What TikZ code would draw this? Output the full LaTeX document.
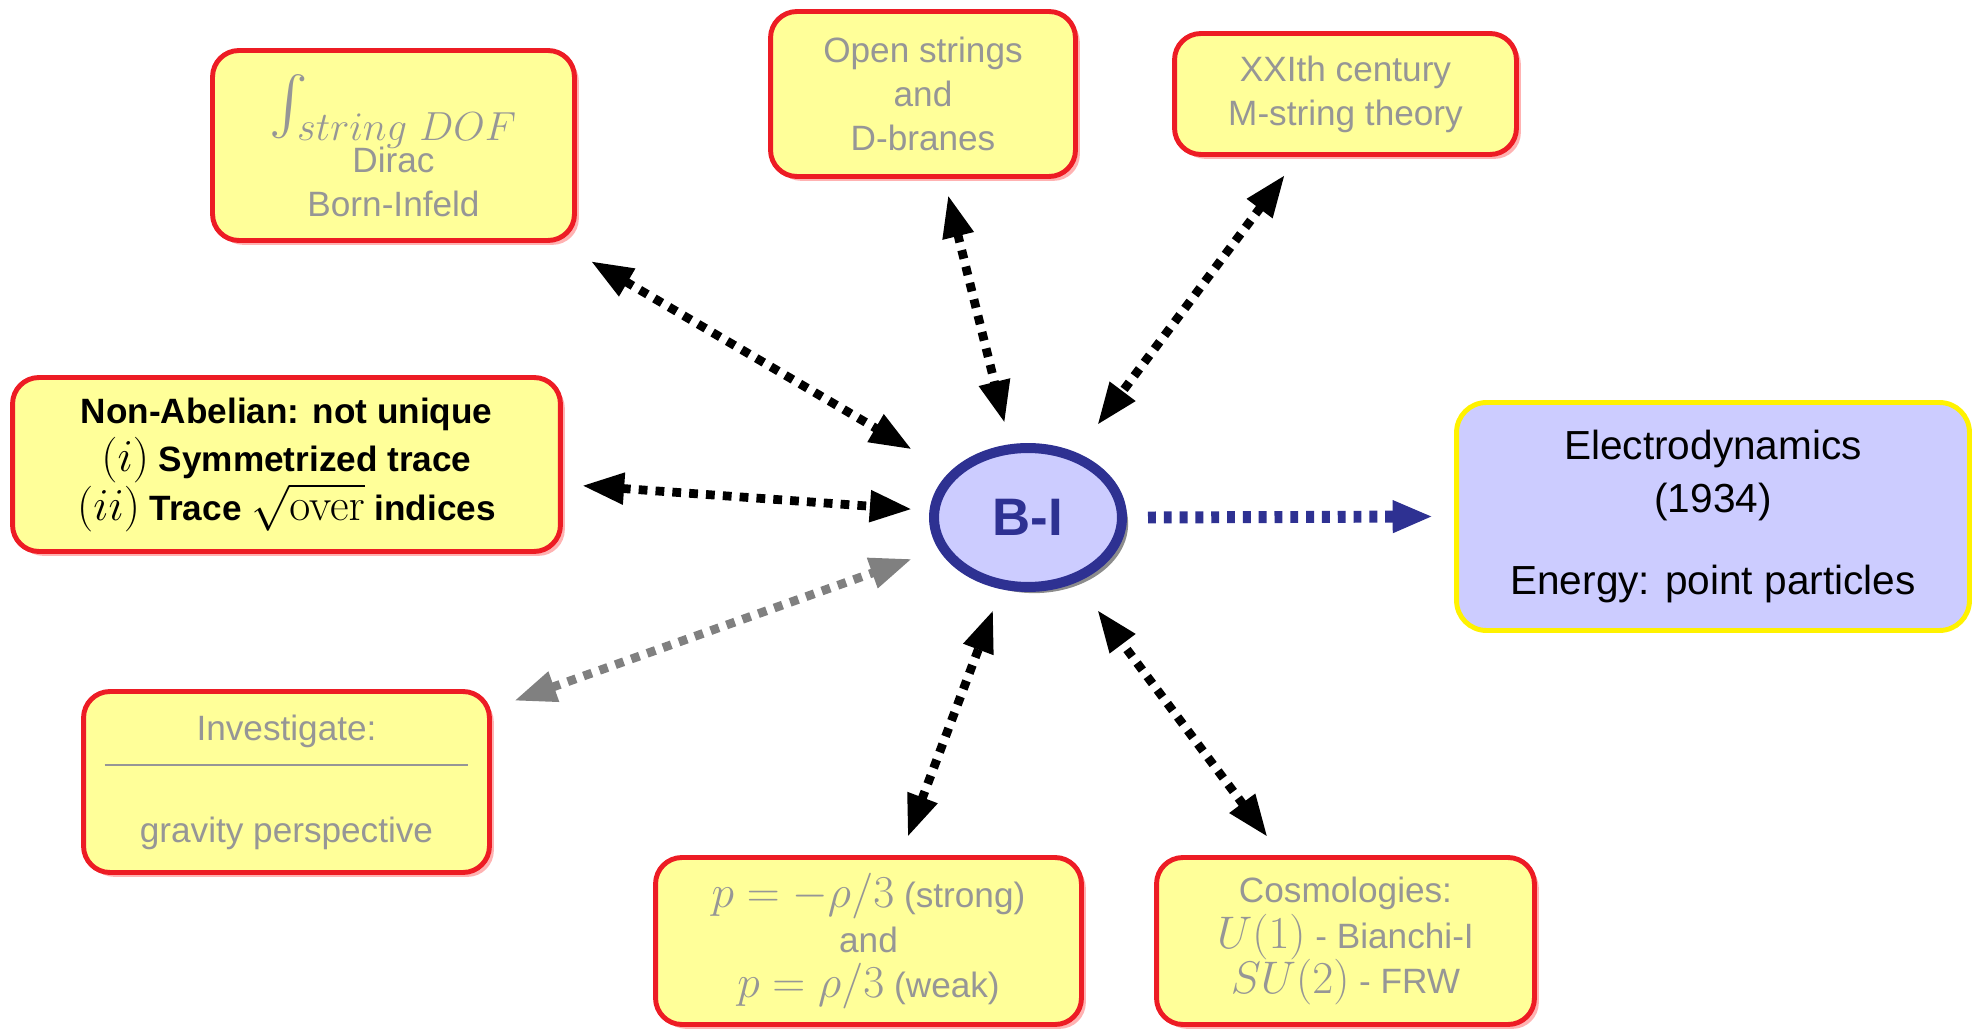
\RequirePackage{fix-cm}
\documentclass[tikz,border=0pt]{standalone}
\usepackage[no-math]{fontspec}
\setmainfont{Liberation Sans}[Scale=0.77]
\DeclareFontShape{OMX}{cmex}{m}{n}{<->cmex10}{}
\usetikzlibrary{shapes.geometric,arrows.meta,calc,shadows}
\definecolor{boxfill}{RGB}{255,255,153}
\definecolor{boxred}{RGB}{237,28,36}
\definecolor{txtgray}{RGB}{150,150,150}
\definecolor{lav}{RGB}{204,204,255}
\definecolor{navy}{RGB}{46,49,146}
\definecolor{yel}{RGB}{255,242,0}
\definecolor{arrgray}{RGB}{128,128,128}
\newcommand{\tightlines}{\setlength{\lineskiplimit}{-100pt}}
\tikzset{
  ybox/.style={draw=boxred, fill=boxfill, line width=2.8pt, rounded corners=15pt,
    align=center, inner sep=0pt, text=txtgray,
    font={\fontsize{26}{25}\selectfont\tightlines},
    drop shadow={shadow xshift=2.5pt, shadow yshift=-2.5pt, fill=red, opacity=0.3}},
  bbox/.style={draw=yel, fill=lav, line width=2.8pt, rounded corners=17pt,
    align=center, inner sep=0pt, text=black,
    font={\fontsize{30}{30}\selectfont\tightlines}},
  bielli/.style={ellipse, draw=navy, fill=lav, line width=5.7pt, inner sep=0pt,
    text=navy, font={\fontsize{39}{39}\selectfont\bfseries},
    drop shadow={shadow xshift=3.5pt, shadow yshift=-3.5pt, fill=black, opacity=0.45}},
  biarr/.style={line width=5pt, dash pattern=on 5pt off 4.6pt,
    {Triangle[length=24pt,width=17pt]}-{Triangle[length=24pt,width=17pt]}},
  bluearr/.style={navy, line width=6.8pt, dash pattern=on 4.5pt off 4.5pt,
    -{Triangle[length=23pt,width=17pt]}}
}
\begin{document}
\begin{tikzpicture}[x=0.02cm,y=-0.02cm]
\useasboundingbox (0,0) rectangle (1974,1033);

\node[ybox, minimum width=7.24cm, minimum height=3.80cm] (b1) at (393.5,145.5)
  {{\fontsize{33}{33}\selectfont$\int_{string\ DOF}$}\\[4.5pt] Dirac\\ Born-Infeld};
\node[ybox, minimum width=6.10cm, minimum height=3.30cm] (b2) at (923,94)
  {Open strings\\ and\\ D-branes};
\node[ybox, minimum width=6.84cm, minimum height=2.42cm] (b3) at (1345.5,94)
  {XXIth century\\ M-string theory};
\node[ybox, minimum width=10.96cm, minimum height=3.48cm, text=black,
  font={\fontsize{26}{25}\selectfont\tightlines\bfseries}] (b4) at (286.5,464.5)
  {Non-Abelian: not unique\\[2.6pt] $(i)$ Symmetrized trace\\[2.6pt]
   $(ii)$ Trace $\sqrt{\mathrm{over}}$ indices};
\node[ybox, minimum width=8.12cm, minimum height=3.62cm] (b5) at (286.5,782)
  {Investigate:\\ \rule[10pt]{207pt}{1.5pt}\\[8pt] gravity perspective};
\node[ybox, minimum width=8.52cm, minimum height=3.34cm] (b6) at (868.5,941)
  {$p=-\rho/3$ (strong)\\[0.5pt] and\\[0.5pt] $p=\rho/3$ (weak)};
\node[ybox, minimum width=7.56cm, minimum height=3.34cm] (b7) at (1345.5,941)
  {Cosmologies:\\[1pt] $U(1)$ - Bianchi-I\\[1pt] $SU(2)$ - FRW};
\node[bbox, minimum width=10.26cm, minimum height=4.56cm] (b8) at (1713,516.5)
  {Electrodynamics\\ (1934)\\[16.5pt] Energy: point particles};

\node[bielli, minimum width=3.76cm, minimum height=2.78cm] (bi) at (1028,517.5) {B-I};

\draw[biarr] ($(b1)!0.311!(bi)$) -- ($(b1)!0.817!(bi)$);
\draw[biarr] ($(b2)!0.2385!(bi)$) -- ($(b2)!0.777!(bi)$);
\draw[biarr] ($(b3)!0.191!(bi)$) -- ($(b3)!0.7816!(bi)$);
\draw[biarr] ($(b4)!0.3985!(bi)$) -- ($(b4)!0.8436!(bi)$);
\draw[biarr, arrgray] ($(b5)!0.307!(bi)$) -- ($(b5)!0.8435!(bi)$);
\draw[biarr] ($(b6)!0.2456!(bi)$) -- ($(b6)!0.7816!(bi)$);
\draw[biarr] ($(b7)!0.2456!(bi)$) -- ($(b7)!0.7816!(bi)$);
\draw[bluearr] ($(bi.east)+(21,0)$) -- ($(b8.west)+(-21,0)$);
\end{tikzpicture}
\end{document}
